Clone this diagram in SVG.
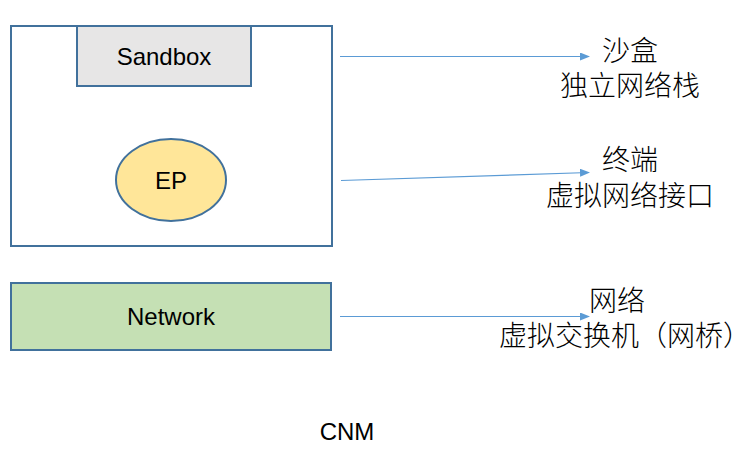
<svg xmlns="http://www.w3.org/2000/svg" width="756" height="449" viewBox="0 0 756 449">
<style>
.box{stroke:#41719c;stroke-width:2}
.en{font-family:"Liberation Sans",Arial,sans-serif;font-size:24px;fill:#000;text-anchor:middle}
.cn{font-family:"Noto Sans CJK SC",sans-serif;font-size:28px;fill:#000;text-anchor:middle;font-weight:300}
.conn{stroke:#5b9bd5;stroke-width:1.2;fill:none}
</style>
<defs>
<marker id="arr" markerWidth="10" markerHeight="8" refX="9" refY="4" orient="auto" markerUnits="userSpaceOnUse">
<path d="M0,0 L10,4 L0,8 Z" fill="#5b9bd5"/>
</marker>
</defs>
<rect width="756" height="449" fill="#fff"/>
<g id="container">
<rect class="box" x="11" y="26" width="321" height="220" fill="#fff"/>
</g>
<g id="sandbox">
<rect class="box" x="77" y="26" width="174" height="60" fill="#e7e6e6"/>
<text class="en" x="164" y="65">Sandbox</text>
</g>
<g id="ep">
<ellipse class="box" cx="171" cy="180" rx="55" ry="41" fill="#ffe699"/>
<text class="en" x="171" y="189">EP</text>
</g>
<g id="network">
<rect class="box" x="11" y="283" width="320" height="67" fill="#c5e0b4"/>
<text class="en" x="171" y="325">Network</text>
</g>
<g id="connectors">
<line class="conn" x1="340" y1="56.5" x2="589" y2="56.5" marker-end="url(#arr)"/>
<line class="conn" x1="341" y1="180.5" x2="589" y2="172.5" marker-end="url(#arr)"/>
<line class="conn" x1="340" y1="316.5" x2="589" y2="316.5" marker-end="url(#arr)"/>
</g>
<g id="label-sandbox">
<text class="cn"><tspan x="630" y="61">沙盒</tspan><tspan x="630" y="96">独立网络栈</tspan></text>
</g>
<g id="label-endpoint">
<text class="cn"><tspan x="630" y="170">终端</tspan><tspan x="630" y="206">虚拟网络接口</tspan></text>
</g>
<g id="label-network">
<text class="cn"><tspan x="617" y="311">网络</tspan><tspan x="625" y="346">虚拟交换机（网桥）</tspan></text>
</g>
<g id="title">
<text class="en" x="347" y="440">CNM</text>
</g>
</svg>
